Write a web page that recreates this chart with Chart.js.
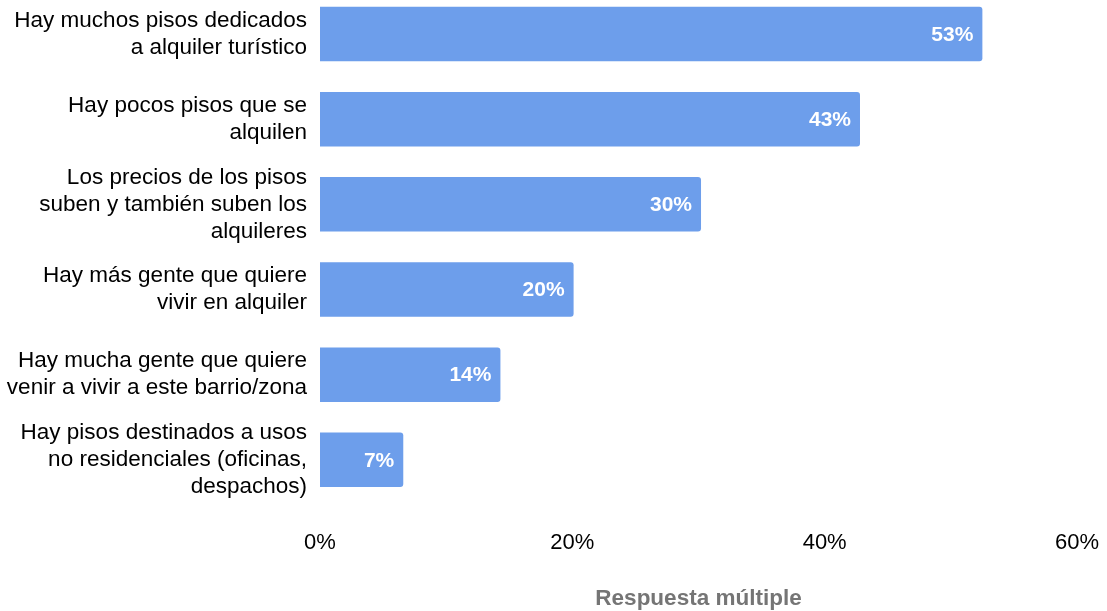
<!DOCTYPE html>
<html>
<head>
    <title>Respuesta múltiple</title>
    <script src="https://cdn.jsdelivr.net/npm/chart.js"></script>
    <style>
        html, body {
            margin: 0;
            padding: 0;
            background: #fff;
            overflow: hidden;
        }
        .wrap {
            position: absolute;
            top: -10px;
            left: 0;
        }
    </style>
</head>
<body>
    <div class="wrap">
        <canvas id="chart" width="1107" height="622"></canvas>
    </div>

    <script>
        const categories = [
            ['Hay muchos pisos dedicados', 'a alquiler turístico'],
            ['Hay pocos pisos que se', 'alquilen'],
            ['Los precios de los pisos', 'suben y también suben los', 'alquileres'],
            ['Hay más gente que quiere', 'vivir en alquiler'],
            ['Hay mucha gente que quiere', 'venir a vivir a este barrio/zona'],
            ['Hay pisos destinados a usos', 'no residenciales (oficinas,', 'despachos)']
        ];
        const values = [52.5, 42.8, 30.2, 20.1, 14.3, 6.6];
        const valueLabels = ['53%', '43%', '30%', '20%', '14%', '7%'];
        const xTicks = [0, 20, 40, 60];

        const fontFamily = '"Liberation Sans", Arial, sans-serif';

        // value labels drawn inside the end of each bar
        const barLabels = {
            id: 'barLabels',
            afterDatasetsDraw(chart) {
                const ctx = chart.ctx;
                const meta = chart.getDatasetMeta(0);
                ctx.save();
                ctx.fillStyle = '#ffffff';
                ctx.font = 'bold 21px ' + fontFamily;
                ctx.textAlign = 'right';
                ctx.textBaseline = 'middle';
                meta.data.forEach((bar, i) => {
                    ctx.fillText(valueLabels[i], bar.x - 9, bar.y + 1);
                });
                ctx.restore();
            }
        };

        new Chart(document.getElementById('chart').getContext('2d'), {
            type: 'bar',
            data: {
                labels: categories,
                datasets: [{
                    data: values,
                    backgroundColor: '#6d9eeb',
                    borderRadius: 3,
                    categoryPercentage: 0.8,
                    barPercentage: 0.8
                }]
            },
            options: {
                indexAxis: 'y',
                responsive: false,
                animation: false,
                layout: { padding: { left: 0, right: 30, top: 1.4, bottom: 0.2 } },
                plugins: {
                    legend: { display: false },
                    tooltip: { enabled: false }
                },
                scales: {
                    x: {
                        min: 0,
                        max: 60,
                        afterBuildTicks: scale => { scale.ticks = xTicks.map(v => ({ value: v })); },
                        afterFit: scale => {
                            scale.height = 109.4;
                            scale.paddingLeft = 0;
                            scale.paddingRight = 0;
                        },
                        grid: { display: false, drawTicks: false },
                        border: { display: false },
                        ticks: {
                            padding: 27,
                            color: '#000',
                            maxRotation: 0,
                            font: { family: fontFamily, size: 22, lineHeight: 1.2 },
                            callback: v => v + '%'
                        },
                        title: {
                            display: true,
                            text: 'Respuesta múltiple',
                            color: '#757575',
                            padding: { top: 29, bottom: 0 },
                            font: { family: fontFamily, size: 22.5, weight: 'bold', lineHeight: 1.2 }
                        }
                    },
                    y: {
                        afterFit: scale => {
                            scale.width = 320;
                            scale.paddingTop = 0;
                            scale.paddingBottom = 0;
                        },
                        grid: { display: false, drawTicks: false },
                        border: { display: false },
                        ticks: {
                            padding: 13,
                            color: '#000',
                            autoSkip: false,
                            font: { family: fontFamily, size: 22.5, lineHeight: 1.2 }
                        }
                    }
                }
            },
            plugins: [barLabels]
        });
    </script>
</body>
</html>
